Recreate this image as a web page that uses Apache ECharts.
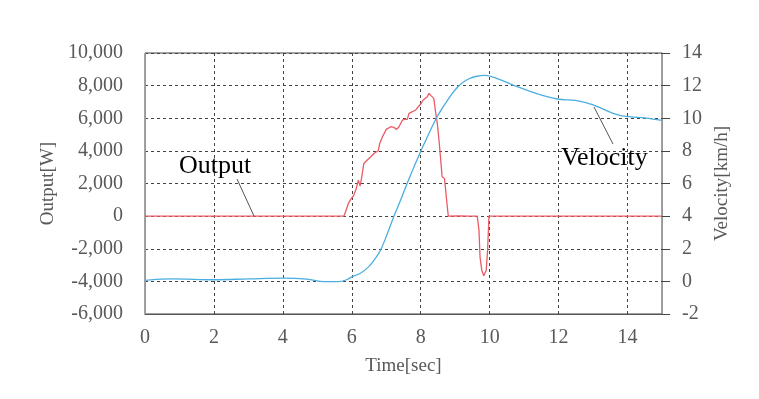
<!DOCTYPE html>
<html><head><meta charset="utf-8">
<script src="https://cdn.jsdelivr.net/npm/echarts@6/dist/echarts.min.js"></script>
<style>html,body{margin:0;padding:0;background:#fff}#c{width:759px;height:399px}</style>
</head><body><div id="c"></div>
<script>
// Output [W] series
const outputTime = [0, 5.77, 5.82, 5.90, 5.97, 6.06, 6.13, 6.19, 6.24, 6.29, 6.35, 6.40, 6.45, 6.50, 6.55, 6.60, 6.67, 6.77, 6.81, 6.89, 7.00, 7.13, 7.22, 7.30, 7.37, 7.42, 7.47, 7.54, 7.61, 7.66, 7.76, 7.85, 7.93, 8.00, 8.07, 8.12, 8.19, 8.24, 8.29, 8.34, 8.38, 8.43, 8.48, 8.53, 8.58, 8.62, 8.69, 8.72, 8.77, 8.80, 9.1, 9.4, 9.64, 9.69, 9.72, 9.77, 9.83, 9.90, 9.94, 9.98, 12, 15];
const outputW = [0, 0, 266, 777, 1022, 1288, 1697, 2209, 1840, 2413, 3231, 3129, 3436, 3333, 3640, 3538, 3886, 4008, 4458, 4867, 5317, 5481, 5440, 5317, 5481, 5481, 5890, 5931, 5931, 6299, 6401, 6503, 6708, 6871, 7117, 7219, 7321, 7526, 7403, 7444, 7219, 6400, 5685, 4663, 3436, 2413, 2311, 2209, 573, 0, 20, 0, 0, -859, -2495, -3313, -3661, -3313, -2086, 0, 0, 0];
// Velocity [km/h] series
const velocityTime = [0, 0.8, 2, 3, 4, 4.7, 5.2, 5.6, 5.85, 6.0, 6.25, 6.5, 6.7, 6.84, 7.0, 7.22, 7.42, 7.61, 8.0, 8.2, 8.43, 8.62, 8.82, 9.0, 9.2, 9.4, 9.59, 9.88, 10.26, 10.66, 11.33, 11.96, 12.49, 12.98, 13.56, 13.95, 14.53, 15];
const velocityKmh = [0.06, 0.15, 0.1, 0.15, 0.2, 0.14, -0.02, -0.02, 0.1, 0.28, 0.5, 0.92, 1.45, 1.94, 2.75, 3.98, 5.0, 6.03, 7.97, 8.9, 9.91, 10.6, 11.24, 11.75, 12.16, 12.42, 12.56, 12.63, 12.4, 12.05, 11.54, 11.18, 11.09, 10.83, 10.32, 10.11, 10.01, 9.87];
// Axis ticks
const xTicks = {min: 0, max: 15, interval: 2};
const leftTicks = {min: -6000, max: 10000, interval: 2000};
const rightTicks = {min: -2, max: 14, interval: 2};

const FONT = '"Liberation Serif", "DejaVu Serif", serif';
const chart = echarts.init(document.getElementById('c'));
const dash = {color: '#444', type: [3, 3], width: 1};
chart.setOption({
  animation: false,
  backgroundColor: '#fff',
  grid: {left: 145, right: 97, top: 53, bottom: 85, show: true, borderColor: '#444', borderWidth: 1},
  xAxis: {
    type: 'value', min: xTicks.min, max: xTicks.max, interval: xTicks.interval,
    name: 'Time[sec]', nameLocation: 'middle', nameGap: 43,
    nameTextStyle: {fontFamily: FONT, fontSize: 19, color: '#595959'},
    axisLine: {show: true, onZero: false, lineStyle: {color: '#555', width: 1}},
    axisTick: {show: false},
    axisLabel: {fontFamily: FONT, fontSize: 20, color: '#595959', margin: 14,
      formatter: v => (v === 15 ? '' : String(v))},
    splitLine: {show: true, lineStyle: dash}
  },
  yAxis: [{
    type: 'value', min: leftTicks.min, max: leftTicks.max, interval: leftTicks.interval,
    name: 'Output[W]', nameLocation: 'middle', nameGap: 85,
    nameTextStyle: {fontFamily: FONT, fontSize: 19, color: '#595959'},
    axisLine: {show: true, lineStyle: {color: '#999', width: 1}},
    axisTick: {show: false},
    axisLabel: {fontFamily: FONT, fontSize: 20, color: '#595959', margin: 22},
    splitLine: {show: true, lineStyle: dash}
  }, {
    type: 'value', min: rightTicks.min, max: rightTicks.max, interval: rightTicks.interval,
    position: 'right',
    name: 'Velocity[km/h]', nameLocation: 'middle', nameGap: 50,
    nameTextStyle: {fontFamily: FONT, fontSize: 19, color: '#595959'},
    axisLine: {show: true, lineStyle: {color: '#999', width: 1}},
    axisTick: {show: true, inside: false, length: 8, lineStyle: {color: '#444'}},
    axisLabel: {fontFamily: FONT, fontSize: 20, color: '#595959', margin: 20},
    splitLine: {show: false}
  }],
  series: [{
    type: 'line', yAxisIndex: 0, showSymbol: false,
    data: outputTime.map((t, i) => [t, outputW[i]]),
    lineStyle: {color: '#ec5a64', width: 1.3}, itemStyle: {color: '#ec5a64'}
  }, {
    type: 'line', yAxisIndex: 1, showSymbol: false, smooth: 0.35,
    data: velocityTime.map((t, i) => [t, velocityKmh[i]]),
    lineStyle: {color: '#4aaee0', width: 1.3}, itemStyle: {color: '#4aaee0'}
  }],
  graphic: [
    {type: 'line', shape: {x1: 237, y1: 179, x2: 254, y2: 216}, style: {stroke: '#555', lineWidth: 1}, z: 10},
    {type: 'text', left: 179, top: 153, style: {text: 'Output', font: '26px ' + FONT, fill: '#000'}, z: 10},
    {type: 'line', shape: {x1: 594, y1: 107, x2: 613, y2: 144}, style: {stroke: '#555', lineWidth: 1}, z: 10},
    {type: 'text', left: 561, top: 145, style: {text: 'Velocity', font: '26px ' + FONT, fill: '#000'}, z: 10}
  ]
});
</script></body></html>
